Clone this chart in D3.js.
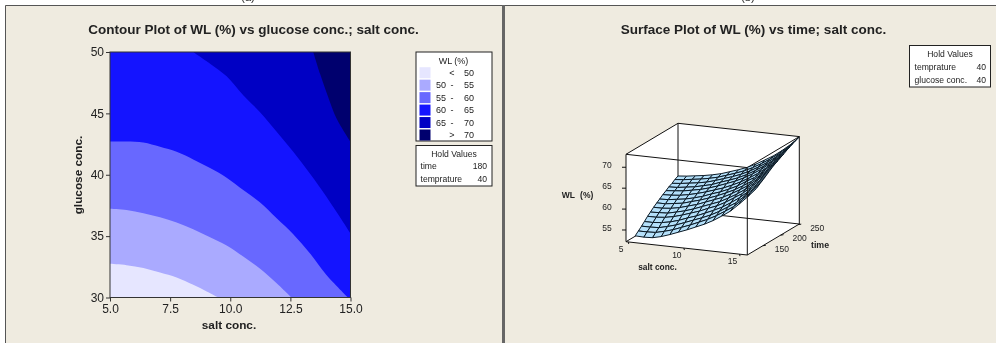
<!DOCTYPE html>
<html>
<head>
<meta charset="utf-8">
<script src="https://cdn.jsdelivr.net/npm/d3@7"></script>
<style>
  html, body { margin: 0; padding: 0; background: #fff; }
  svg { display: block; filter: blur(0.35px); }
  text { font-family: "Liberation Sans", Arial, sans-serif; fill: #222; }
  .tick text { font-family: "Liberation Sans", Arial, sans-serif; }
</style>
</head>
<body>
<svg id="chart" width="996" height="343"></svg>
<script>
// contour plot: level boundaries (salt conc., glucose conc.)
var saltTicks = [5, 7.5, 10, 12.5, 15];
var glucoseTicks = [30, 35, 40, 45, 50];

var salt50 = [5, 5.69, 6.39, 7.08, 7.77, 8.46, 9.02, 9.5];
var glucose50 = [32.74, 32.63, 32.41, 32.03, 31.63, 31.03, 30.49, 30];
var salt55 = [5, 5.69, 6.39, 7.08, 7.77, 8.46, 9.16, 9.85, 10.54, 11.23, 11.93, 12.55];
var glucose55 = [37.24, 37.13, 36.86, 36.53, 36.1, 35.56, 34.91, 34.23, 33.33, 32.36, 31.17, 30];
var salt60 = [5, 5.69, 6.39, 7.08, 7.77, 8.46, 9.16, 9.85, 10.54, 11.23, 11.93, 12.62, 13.31, 14, 14.9];
var glucose60 = [42.71, 42.71, 42.63, 42.28, 41.87, 41.25, 40.54, 39.76, 38.75, 37.75, 36.45, 35.15, 33.6, 31.84, 30];
var salt65 = [8.46, 9.16, 9.85, 10.54, 11.23, 11.93, 12.62, 13.31, 14, 15];
var glucose65 = [50, 49.05, 48.02, 46.48, 45.12, 43.5, 41.87, 40.11, 38.21, 35.23];
var salt70 = [13.45, 13.73, 14.07, 14.42, 15];
var glucose70 = [50, 48.24, 46.34, 44.58, 42.68];

var legendLow = ['', '50', '55', '60', '65', ''];
var legendSep = ['<', '-', '-', '-', '-', '>'];
var legendHigh = ['50', '55', '60', '65', '70', '70'];
var levelColors = ['#e6e6ff', '#aaaaff', '#6868ff', '#1414ff', '#0000c4', '#00006e'];

// surface plot: mesh heights, one row per time value
var meshSalt = [4.8, 5.58, 6.36, 7.14, 7.91, 8.69, 9.47, 10.25, 11.03, 11.81, 12.59, 13.36, 14.14, 14.92, 15.7];
var meshTime = [132, 141, 150, 158, 167, 175, 184, 193, 201, 210, 219, 227, 236, 244, 253];
var meshWL = [
  [52.3,52.2,52.3,52.8,53.5,54.3,55.1,56.0,56.9,58.0,59.3,60.7,62.6,64.6,66.8],
  [53.0,53.0,53.1,53.6,54.2,55.0,55.8,56.7,57.6,58.7,60.0,61.3,63.2,65.2,67.4],
  [53.7,53.7,53.8,54.3,54.9,55.7,56.5,57.3,58.2,59.3,60.6,61.9,63.8,65.7,67.9],
  [54.4,54.4,54.6,55.0,55.6,56.4,57.1,58.0,58.9,59.9,61.2,62.6,64.3,66.3,68.4],
  [55.2,55.2,55.4,55.8,56.4,57.1,57.8,58.7,59.5,60.6,61.9,63.2,65.0,66.8,69.0],
  [55.8,55.9,56.0,56.5,57.0,57.7,58.5,59.3,60.1,61.2,62.4,63.8,65.5,67.4,69.5],
  [56.5,56.5,56.7,57.1,57.7,58.3,59.1,59.9,60.7,61.8,63.0,64.3,66.0,67.9,70.0],
  [57.1,57.1,57.4,57.7,58.3,58.9,59.6,60.4,61.3,62.3,63.5,64.8,66.5,68.3,70.4],
  [57.6,57.7,58.0,58.3,58.8,59.4,60.2,60.9,61.8,62.8,64.1,65.3,67.0,68.8,70.8],
  [58.2,58.3,58.5,58.9,59.4,60.0,60.7,61.4,62.3,63.3,64.5,65.8,67.4,69.2,71.2],
  [58.7,58.9,59.1,59.5,59.9,60.5,61.2,62.0,62.8,63.8,65.0,66.3,67.9,69.6,71.7],
  [59.2,59.3,59.6,59.9,60.4,60.9,61.7,62.4,63.2,64.2,65.4,66.7,68.2,70.0,72.0],
  [59.6,59.8,60.1,60.4,60.8,61.4,62.1,62.8,63.6,64.6,65.8,67.1,68.6,70.3,72.4],
  [60.1,60.3,60.6,60.9,61.3,61.8,62.5,63.2,64.0,65.0,66.2,67.5,69.0,70.7,72.7],
  [60.5,60.7,61.0,61.3,61.7,62.2,62.9,63.6,64.4,65.4,66.6,67.8,69.3,71.0,73.0]
];
var surfSaltTicks = [5, 10, 15];
var surfTimeTicks = [150, 200, 250];
var surfWLTicks = [55, 60, 65, 70];

var svg = d3.select('#chart');

// page panels
svg.append('rect').attr('x', 5).attr('y', 5).attr('width', 991).attr('height', 338)
  .attr('fill', '#efebe0');
svg.append('path').attr('d', 'M5.5,343V5.5H996').attr('fill', 'none').attr('stroke', '#555').attr('stroke-width', 1);
svg.append('rect').attr('x', 502).attr('y', 5).attr('width', 3).attr('height', 338).attr('fill', '#666');

// sub-figure marks, cut off by the top of the picture
svg.append('text').attr('x', 248).attr('y', 1).attr('text-anchor', 'middle').attr('font-size', 11).text('(a)');
svg.append('text').attr('x', 748).attr('y', 1).attr('text-anchor', 'middle').attr('font-size', 11).text('(b)');

function title(cx, cy, str){
  svg.append('text').attr('x', cx).attr('y', cy).attr('text-anchor', 'middle')
    .attr('font-size', 13.5).attr('font-weight', 'bold').attr('fill', '#111').text(str);
}
function label(x, y, str, size, anchor, bold){
  return svg.append('text').attr('x', x).attr('y', y).attr('text-anchor', anchor || 'middle')
    .attr('dominant-baseline', 'central')
    .attr('font-size', size).attr('font-weight', bold ? 'bold' : 'normal').text(str);
}

// ---- contour plot ----
title(253.5, 34, 'Contour Plot of WL (%) vs glucose conc.; salt conc.');

var x = d3.scaleLinear().domain([5, 15]).range([110, 350.5]);
var y = d3.scaleLinear().domain([30, 50]).range([297.5, 52]);

var line = d3.line().x(function(d){ return x(d[0]); }).y(function(d){ return y(d[1]); })
  .curve(d3.curveCatmullRom);

var lowCorners = [[15, 30], [15, 50], [5, 50]];
var topCorners = [[15, 50]];
var regions = [
  { salt: salt50, glucose: glucose50, corners: lowCorners },
  { salt: salt55, glucose: glucose55, corners: lowCorners },
  { salt: salt60, glucose: glucose60, corners: lowCorners },
  { salt: salt65, glucose: glucose65, corners: topCorners },
  { salt: salt70, glucose: glucose70, corners: topCorners }
];

svg.append('rect').attr('x', x(5)).attr('y', y(50))
  .attr('width', x(15) - x(5)).attr('height', y(30) - y(50)).attr('fill', levelColors[0]);

svg.selectAll('.region').data(regions).enter().append('path')
  .attr('class', 'region')
  .attr('fill', function(d, i){ return levelColors[i + 1]; })
  .attr('d', function(d){
    var pts = d.salt.map(function(s, i){ return [s, d.glucose[i]]; });
    var close = d.corners.map(function(c){ return 'L' + x(c[0]) + ',' + y(c[1]); }).join('');
    return line(pts) + close + 'Z';
  });

svg.append('rect').attr('x', x(5)).attr('y', y(50))
  .attr('width', x(15) - x(5)).attr('height', y(30) - y(50))
  .attr('fill', 'none').attr('stroke', '#333').attr('stroke-width', 1);

var xAxis = d3.axisBottom(x).tickValues(saltTicks).tickFormat(d3.format('.1f')).tickSize(4).tickPadding(3);
var yAxis = d3.axisLeft(y).tickValues(glucoseTicks).tickSize(4).tickPadding(2);

var gx = svg.append('g').attr('transform', 'translate(0,297.5)').call(xAxis);
var gy = svg.append('g').attr('transform', 'translate(110,0)').call(yAxis);
[gx, gy].forEach(function(g){
  g.select('.domain').remove();
  g.selectAll('.tick line').attr('stroke', '#333');
  g.selectAll('.tick text').attr('font-size', 12).attr('fill', '#222');
});

label(229, 325, 'salt conc.', 11.8, 'middle', true);
label(78, 175, 'glucose conc.', 11.8, 'middle', true)
  .attr('transform', 'rotate(-90 78 175)');

// level legend
svg.append('rect').attr('x', 416).attr('y', 52).attr('width', 76).attr('height', 89)
  .attr('fill', '#fff').attr('stroke', '#222').attr('stroke-width', 1);
label(453.5, 61, 'WL (%)', 9);

var rowY = d3.scalePoint().domain(d3.range(6)).range([72.7, 135]);
levelColors.forEach(function(c, i){
  svg.append('rect').attr('x', 419.5).attr('y', rowY(i) - 5.5).attr('width', 11).attr('height', 11).attr('fill', c);
  label(441, rowY(i), legendLow[i], 9);
  label(452, rowY(i), legendSep[i], 9);
  label(469, rowY(i), legendHigh[i], 9);
});

// hold values of the contour plot
svg.append('rect').attr('x', 416).attr('y', 145.5).attr('width', 76).attr('height', 40.5)
  .attr('fill', '#fff').attr('stroke', '#222').attr('stroke-width', 1);
label(454, 154, 'Hold Values', 8.6);
label(420.5, 166, 'time', 8.6, 'start');
label(487, 166, '180', 8.6, 'end');
label(420.5, 179, 'temprature', 8.6, 'start');
label(487, 179, '40', 8.6, 'end');

// ---- surface plot ----
title(753.5, 34, 'Surface Plot of WL (%) vs time; salt conc.');

svg.append('rect').attr('x', 909.5).attr('y', 45.5).attr('width', 81).attr('height', 41.5)
  .attr('fill', '#fff').attr('stroke', '#222').attr('stroke-width', 1);
label(950, 54, 'Hold Values', 8.6);
label(914.5, 67, 'temprature', 8.6, 'start');
label(986, 67, '40', 8.6, 'end');
label(914.5, 79.5, 'glucose conc.', 8.6, 'start');
label(986, 79.5, '40', 8.6, 'end');

// oblique projection: each data axis runs along its own screen direction
var sx = d3.scaleLinear().domain([4.8, 15.7]).range([0, 1]);
var st = d3.scaleLinear().domain([106, 253]).range([0, 1]);
var sz = d3.scaleLinear().domain([52.2, 73.1]).range([0, 1]);

function project(salt, time, wl){
  return [
    626 + sx(salt) * 121.3 + st(time) * 52,
    241.7 + sx(salt) * 13.3 - st(time) * 31 - sz(wl) * 87.4
  ];
}

var sMin = sx.domain()[0], sMax = sx.domain()[1],
    tMin = st.domain()[0], tMax = st.domain()[1],
    zMin = sz.domain()[0], zMax = sz.domain()[1];

function edge(a, b, w){
  svg.append('line')
    .attr('x1', a[0]).attr('y1', a[1]).attr('x2', b[0]).attr('y2', b[1])
    .attr('stroke', '#111').attr('stroke-width', w || 1);
}

// white walls behind the mesh
svg.append('path').attr('fill', '#fff').attr('d', d3.line()([
  project(sMin, tMin, zMax), project(sMin, tMax, zMax), project(sMax, tMax, zMax),
  project(sMax, tMax, zMin), project(sMax, tMin, zMin), project(sMin, tMin, zMin)
]) + 'Z');

// back edges
edge(project(sMin, tMax, zMin), project(sMin, tMax, zMax));
edge(project(sMin, tMax, zMax), project(sMax, tMax, zMax));
edge(project(sMin, tMin, zMax), project(sMin, tMax, zMax));
edge(project(sMax, tMin, zMax), project(sMax, tMax, zMax));
edge(project(sMin, tMax, zMin), project(sMax, tMax, zMin));
edge(project(sMin, tMin, zMin), project(sMin, tMax, zMin));
edge(project(sMax, tMax, zMin), project(sMax, tMax, zMax));
edge(project(sMax, tMin, zMin), project(sMax, tMax, zMin));

// mesh, painted from the back row forward
var cells = [];
for(var j = meshTime.length - 2; j >= 0; j--){
  for(var i = 0; i < meshSalt.length - 1; i++){
    cells.push([
      project(meshSalt[i], meshTime[j], meshWL[j][i]),
      project(meshSalt[i + 1], meshTime[j], meshWL[j][i + 1]),
      project(meshSalt[i + 1], meshTime[j + 1], meshWL[j + 1][i + 1]),
      project(meshSalt[i], meshTime[j + 1], meshWL[j + 1][i])
    ]);
  }
}
svg.selectAll('.cell').data(cells).enter().append('path')
  .attr('class', 'cell')
  .attr('d', function(d){ return d3.line()(d) + 'Z'; })
  .attr('fill', '#b4e0fa').attr('stroke', '#0b1a26').attr('stroke-width', 1);

// front edges on top
edge(project(sMin, tMin, zMin), project(sMin, tMin, zMax));
edge(project(sMax, tMin, zMin), project(sMax, tMin, zMax));
edge(project(sMin, tMin, zMax), project(sMax, tMin, zMax));
edge(project(sMin, tMin, zMin), project(sMax, tMin, zMin));

// ticks and their labels
surfWLTicks.forEach(function(v){
  var p = project(sMin, tMin, v);
  edge([p[0] - 4, p[1]], p);
  label(p[0] - 19, p[1] - 2, v, 8.5);
});
surfSaltTicks.forEach(function(v){
  var p = project(v, tMin, zMin);
  edge(p, [p[0] + 0.5, p[1] + 2]);
  label(p[0] - 7, p[1] + 7, v, 8.5);
});
surfTimeTicks.forEach(function(v){
  var p = project(sMax, v, zMin);
  edge(p, [p[0] + 3, p[1] - 0.5]);
  label(p[0] + 19, p[1] + 3, v, 8.5);
});

label(577.5, 194.5, 'WL (%)', 8.5, 'middle', true).attr('word-spacing', 3);
label(657.5, 266.5, 'salt conc.', 8.4, 'middle', true);
label(820, 245, 'time', 8.8, 'middle', true);
</script>
</body>
</html>
